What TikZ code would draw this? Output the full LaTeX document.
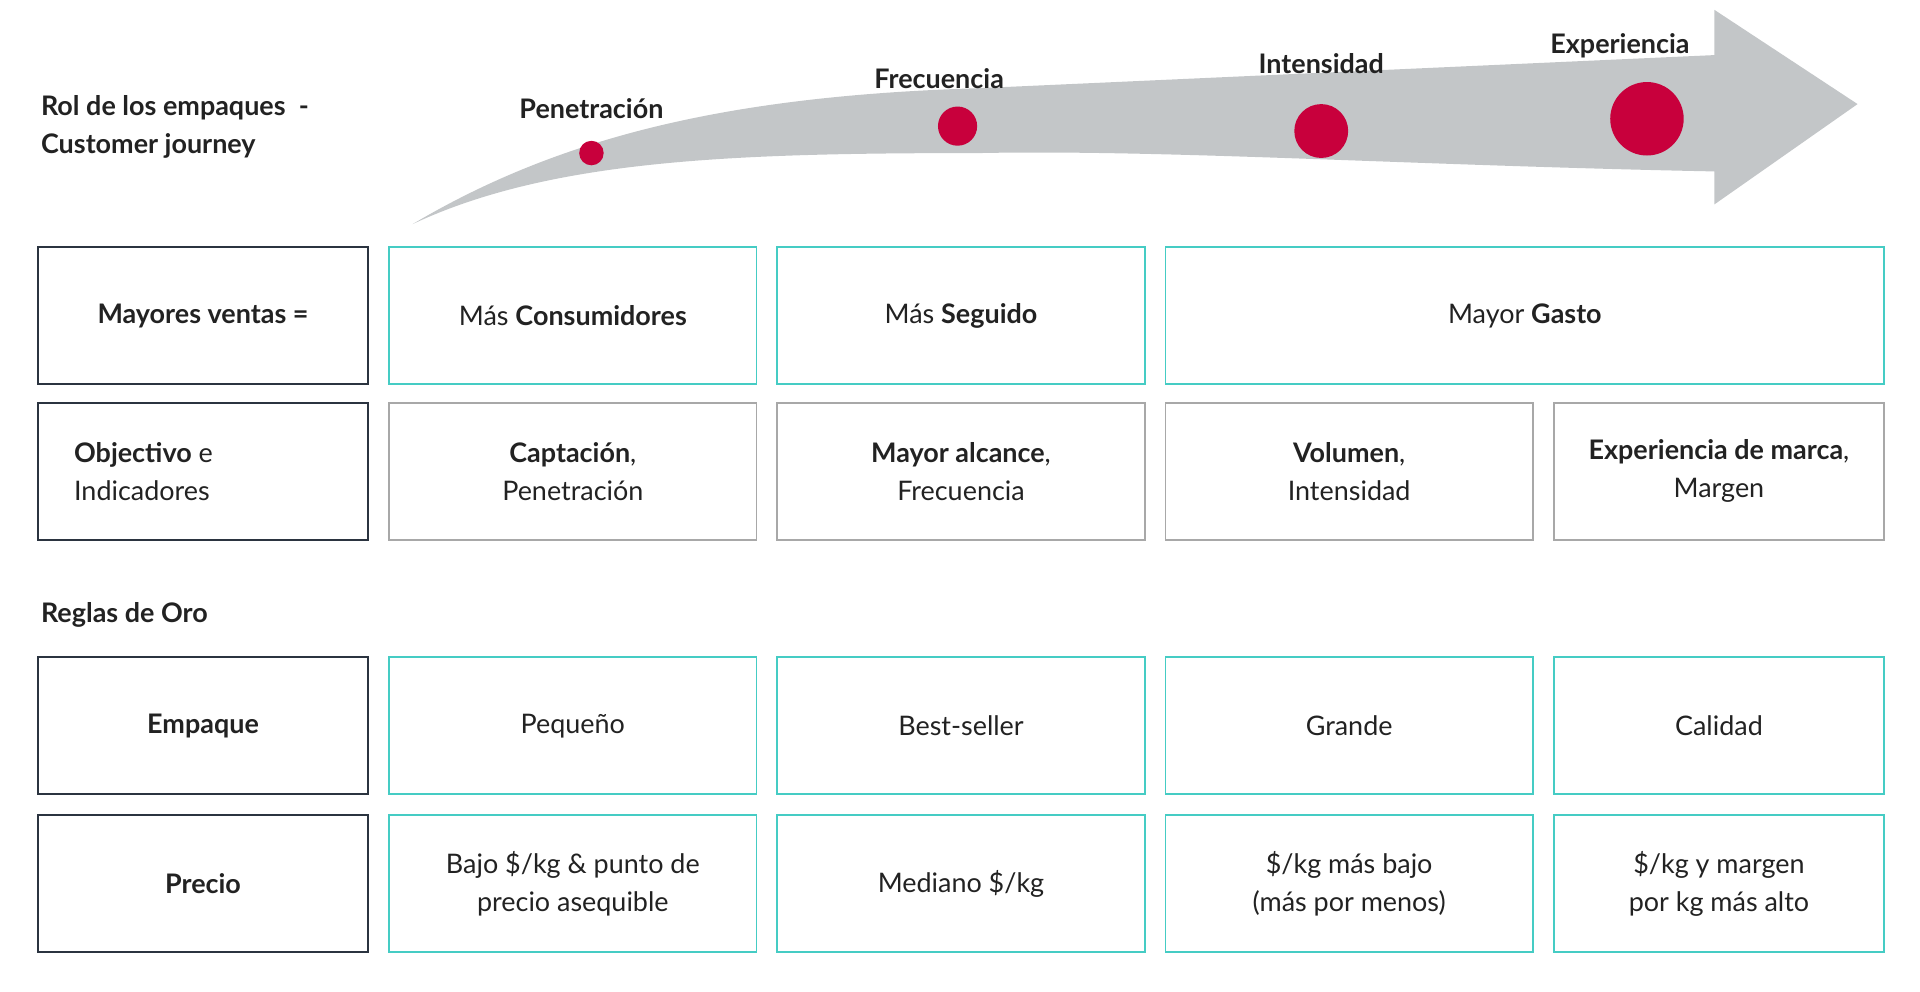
\documentclass[tikz,border=0pt]{standalone}
\usepackage{fontspec}
\setmainfont{Lato}
\usetikzlibrary{calc}
\definecolor{teal}{HTML}{45CCC4}
\definecolor{frame}{HTML}{2B3440}
\definecolor{cell}{HTML}{A8A8A8}
\definecolor{dot}{HTML}{C8003C}
\definecolor{band}{HTML}{C3C6C8}
\definecolor{ink}{HTML}{222222}
\tikzset{
  box/.style={draw, line width=1.6pt, minimum height=112pt, align=center, inner sep=0pt, text=ink},
  head/.style={box, draw=frame, minimum width=270pt, anchor=north west},
  tealbox/.style={box, draw=teal, minimum width=300pt, anchor=north west},
  greybox/.style={box, draw=cell, minimum width=300pt, anchor=north west},
  stage/.style={font=\bfseries\fontsize{22}{31}\selectfont, text=ink}
}
\begin{document}
\begin{tikzpicture}[x=1pt,y=-1pt,font=\fontsize{22}{31}\selectfont]
				\useasboundingbox (0,0) rectangle (1568,810);
				
				% arrow
				\fill[band] (337,183) .. controls (460,110) and (600,78) .. (800,72)
				-- (1400,45) -- (1400,8) -- (1517,85) -- (1400,167) -- (1400,140)
				.. controls (1150,135) and (950,122) .. (800,125)
				.. controls (600,125) and (450,130) .. (337,183) -- cycle;
				
				\node[stage, align=left, anchor=west] (title) at (30,104) {Rol de los empaques \ -\\Customer journey};
				
				\foreach \x/\y/\r/\t/\lx/\ly in {483/125/10/Penetración/483/89, 782/103/16/Frecuencia/767/64, 1079/107/22/Intensidad/1079/52, 1345/97/30/Experiencia/1323/37}{
					\fill[dot] (\x,\y) circle (\r);
					\node[stage] at (\lx,\ly) {\t};}
				
				% rows
				\node[head] (h1) at (30,201) {\textbf{Mayores ventas =}};
				\node[head] (h2) at (30,328) {};
				\node[anchor=west, align=left, text=ink] at ($(h2.west)+(27,0)$) {\textbf{Objectivo} e\\Indicadores};
				\node[head] (h3) at (30,536) {\textbf{Empaque}};
				\node[head] (h4) at (30,665) {\textbf{Precio}};
				
				\node[tealbox] (a1) at (317,201) {Más \textbf{Consumidores}};
				\node[tealbox] (b1) at (634,201) {Más \textbf{Seguido}};
				\node[tealbox, minimum width=587pt] (c1) at (951,201) {Mayor \textbf{Gasto}};
				
				\node[greybox] (a2) at (317,328) {\textbf{Captación},\\Penetración};
				\node[greybox] (b2) at (634,328) {\textbf{Mayor alcance},\\Frecuencia};
				\node[greybox] (c2) at (951,328) {\textbf{Volumen},\\Intensidad};
				\node[greybox, minimum width=270pt] (d2) at (1268,328) {\textbf{Experiencia de marca},\\Margen};
				
				\node[stage, anchor=west] (rules) at (30,502) {Reglas de Oro};
				
				\node[tealbox] (a3) at (317,536) {Pequeño};
				\node[tealbox] (b3) at (634,536) {Best-seller};
				\node[tealbox] (c3) at (951,536) {Grande};
				\node[tealbox, minimum width=270pt] (d3) at (1268,536) {Calidad};
				
				\node[tealbox] (a4) at (317,665) {Bajo \$/kg \& punto de\\precio asequible};
				\node[tealbox] (b4) at (634,665) {Mediano \$/kg};
				\node[tealbox] (c4) at (951,665) {\$/kg más bajo\\(más por menos)};
				\node[tealbox, minimum width=270pt] (d4) at (1268,665) {\$/kg y margen\\por kg más alto};
			\end{tikzpicture}
\end{document}
